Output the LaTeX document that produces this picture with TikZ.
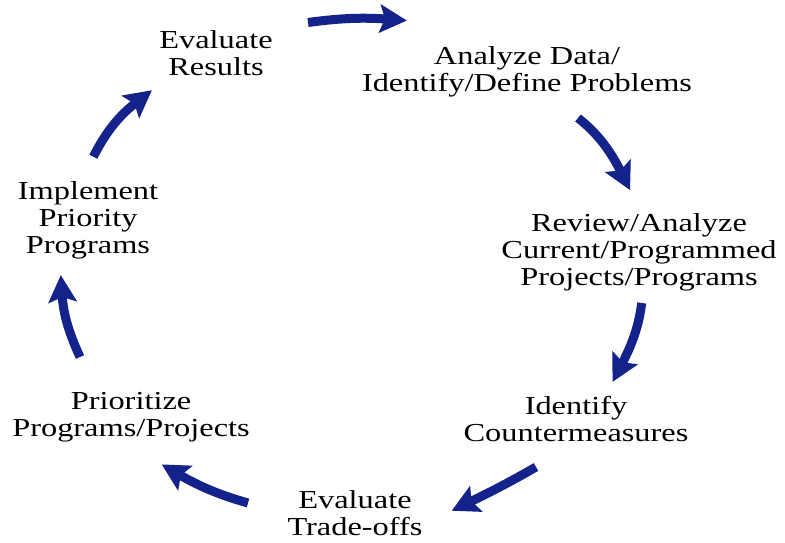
\documentclass[tikz,border=0pt]{standalone}
\usepackage{fontspec}
\setmainfont{Liberation Serif}
\usepackage{graphicx}
\usetikzlibrary{arrows.meta}
\definecolor{navy}{RGB}{20,34,140}
\newcommand{\blk}[1]{\scalebox{1.25}[1]{\begin{tabular}{@{}c@{}}#1\end{tabular}}}
\tikzset{
  lbl/.style={inner sep=0pt, font=\fontsize{26}{27}\selectfont, text=black},
  cyc/.style={draw=navy, line width=9bp, line cap=butt, shorten >=-27bp,
    -{Stealth[length=27bp,width=28bp,inset=5bp]}}
}
\begin{document}
\begin{tikzpicture}[x=1bp,y=-1bp]
\useasboundingbox (0,0) rectangle (785,543);
\node[lbl] (er) at (216,57) {\blk{Evaluate\\Results}};
\node[lbl] (ad) at (527,73) {\blk{Analyze Data/\\Identify/Define Problems}};
\node[lbl] (ra) at (639,253) {\blk{Review/Analyze\\Current/Programmed\\Projects/Programs}};
\node[lbl] (ic) at (576,423) {\blk{Identify\\Countermeasures}};
\node[lbl] (et) at (355,517) {\blk{Evaluate\\Trade-offs}};
\node[lbl] (pp) at (131,418) {\blk{Prioritize\\Programs/Projects}};
\node[lbl] (ip) at (88,221) {\blk{Implement\\Priority\\Programs}};
% tails and head bases
\coordinate (t1) at (308,22.5); \coordinate (b1) at (380,18.6);
\coordinate (t2) at (578,118);  \coordinate (b2) at (618,166);
\coordinate (t3) at (641.7,303); \coordinate (b3) at (625,358);
\coordinate (t4) at (536,467);  \coordinate (b4) at (476,499);
\coordinate (t5) at (248,503);  \coordinate (b5) at (185,478);
\coordinate (t6) at (80,357);   \coordinate (b6) at (62.6,302);
\coordinate (t7) at (93.3,156.7); \coordinate (b7) at (130.6,106.8);
\draw[cyc] (t1) .. controls (334,19) and (358,17) .. (b1);
\draw[cyc] (t2) .. controls (595.7,132) and (609,148) .. (b2);
\draw[cyc] (t3) .. controls (639.2,323) and (633.7,341.3) .. (b3);
\draw[cyc] (t4) .. controls (514,479.7) and (494,490.3) .. (b4);
\draw[cyc] (t5) .. controls (222,495.7) and (201,487.3) .. (b5);
\draw[cyc] (t6) .. controls (69.3,333.7) and (63.5,315.3) .. (b6);
\draw[cyc] (t7) .. controls (105.1,133.7) and (117.6,116.9) .. (b7);
\end{tikzpicture}
\end{document}
